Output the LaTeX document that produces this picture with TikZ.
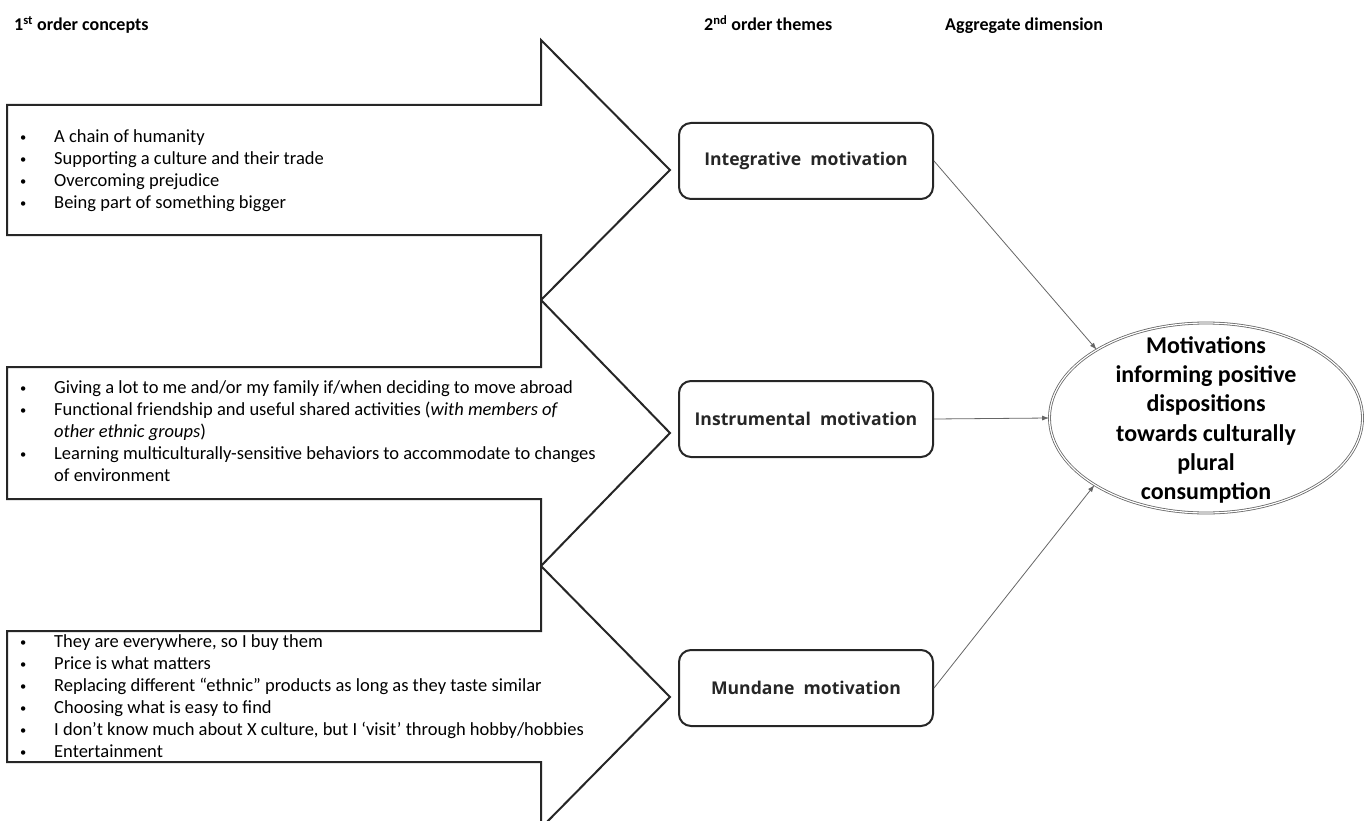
\documentclass[tikz,border=0pt]{standalone}
\usepackage{fontspec}
\setmainfont{Carlito}
\newfontfamily\boxfont{Open Sans}
\usetikzlibrary{shapes.geometric,arrows.meta}
\newcommand{\smbul}{{\fontsize{12.5}{12.5}\selectfont\raisebox{1.2pt}{\textbullet}}}
\begin{document}
\begin{tikzpicture}[x=1pt,y=-1pt,
  hdr/.style={anchor=base west,inner sep=0,font=\fontsize{18}{22}\selectfont\bfseries},
  bigarrow/.style={draw=black!85,line width=2pt,fill=white,line join=miter},
  list/.style={anchor=base west,inner sep=0,font=\fontsize{18.5}{22}\selectfont,align=left},
  theme/.style={draw=black!85,line width=2pt,rounded corners=12pt,minimum width=254pt,minimum height=76pt,inner sep=0,font=\boxfont\bfseries\fontsize{17.6}{20}\selectfont,text=black!85},
  conn/.style={draw=black!60,line width=0.8pt,-{Latex[length=7pt,width=5pt]}}]
\useasboundingbox (0,0) rectangle (1367,821);
\clip (0,0) rectangle (1367,821);

% headers
\node[hdr] (h1) at (14,31) {1\textsuperscript{st} order concepts};
\node[hdr] (h2) at (704,31) {2\textsuperscript{nd} order themes};
\node[hdr] (h3) at (945,31) {Aggregate dimension};

% big arrows
\draw[bigarrow] (7,105) -- (541,105) -- (541,40) -- (670,170) -- (541,300) -- (541,235) -- (7,235) -- cycle;
\draw[bigarrow] (7,367) -- (541,367) -- (541,300) -- (670,433) -- (541,566) -- (541,499) -- (7,499) -- cycle;
\draw[bigarrow] (7,631) -- (541,631) -- (541,566) -- (670,697) -- (541,828) -- (541,762) -- (7,762) -- cycle;

% lists
\node[list] (l1) at (20,142.5) {\begin{tabular}[t]{@{}p{34pt}@{}l@{}}
\smbul & A chain of humanity\\
\smbul & Supporting a culture and their trade\\
\smbul & Overcoming prejudice\\
\smbul & Being part of something bigger
\end{tabular}};
\node[list] (l2) at (20,393.5) {\begin{tabular}[t]{@{}p{34pt}@{}l@{}}
\smbul & Giving a lot to me and/or my family if/when deciding to move abroad\\
\smbul & Functional friendship and useful shared activities (\textit{with members of}\\
 & \textit{other ethnic groups})\\
\smbul & Learning multiculturally-sensitive behaviors to accommodate to changes\\
 & of environment
\end{tabular}};
\node[list] (l3) at (20,647.5) {\begin{tabular}[t]{@{}p{34pt}@{}l@{}}
\smbul & They are everywhere, so I buy them\\
\smbul & Price is what matters\\
\smbul & Replacing different “ethnic” products as long as they taste similar\\
\smbul & Choosing what is easy to find\\
\smbul & I don’t know much about X culture, but I ‘visit’ through hobby/hobbies\\
\smbul & Entertainment
\end{tabular}};

% themes
\node[theme] (t1) at (806,161) {Integrative\ \ motivation};
\node[theme] (t2) at (806,419) {Instrumental\ \ motivation};
\node[theme] (t3) at (806,688) {Mundane\ \ motivation};

% aggregate
\node[ellipse,draw=black!60,line width=0.8pt,double=white,double distance=1.2pt,minimum width=313pt,minimum height=190pt,inner sep=0] (ell) at (1206,418) {};
\node[align=center,inner sep=0,font=\fontsize{24}{29.3}\selectfont\bfseries] (elltext) at (1206,420) {Motivations\\informing positive\\dispositions\\towards culturally\\plural\\consumption};

% connectors
\draw[conn] (t1.east) -- (ell.148);
\draw[conn] (t2.east) -- (ell.west);
\draw[conn] (t3.east) -- (ell.211);
\end{tikzpicture}
\end{document}
